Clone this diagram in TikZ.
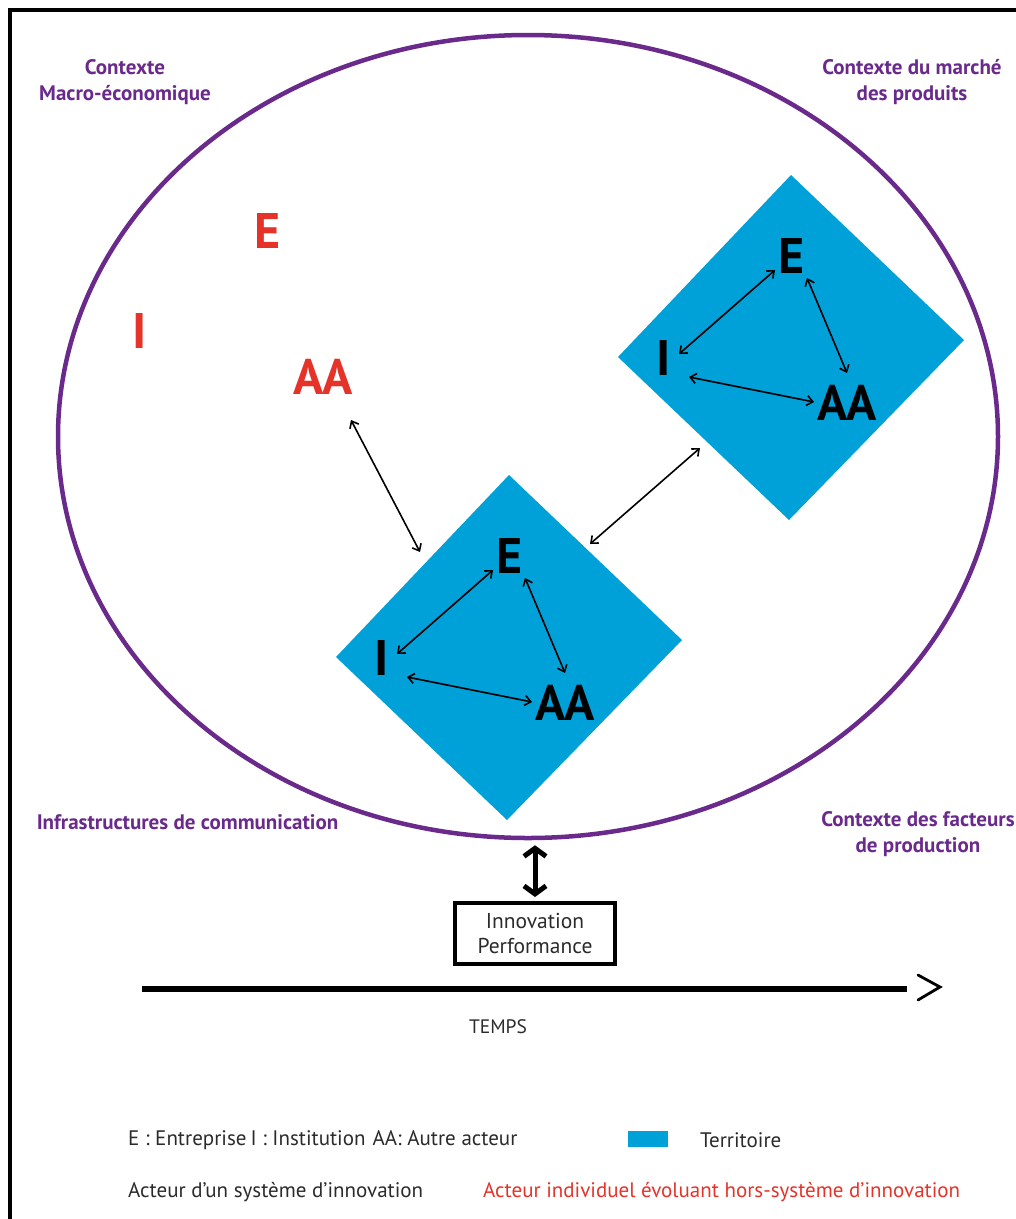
\documentclass[tikz,border=0pt]{standalone}
\usepackage{fontspec}
\setmainfont{PT Sans}
\newfontfamily\legfont{PT Sans}
\usetikzlibrary{arrows.meta,calc,shapes.geometric}
\definecolor{terr}{HTML}{00A0D8}
\definecolor{ctxpurple}{HTML}{6A2A8C}
\definecolor{outred}{HTML}{E5332A}
\definecolor{txtgray}{HTML}{2B2B2B}
\begin{document}
\begin{tikzpicture}[x=1pt,y=-1pt,
  letter/.style={inner sep=0pt,font=\fontsize{50}{50}\selectfont\bfseries},
  ctxlabel/.style={align=center,text=ctxpurple,inner sep=0pt,font=\fontsize{21}{26}\selectfont\bfseries},
  legtext/.style={anchor=west,inner sep=0pt,text=txtgray,font=\legfont\fontsize{21}{24}\selectfont},
  link/.style={line width=1.6pt,{Straight Barb[length=6pt,width=10pt]}-{Straight Barb[length=6pt,width=10pt]}},
  biglink/.style={line width=5pt,{Straight Barb[length=8pt,width=22pt]}-{Straight Barb[length=8pt,width=22pt]}}
]
\useasboundingbox (0,0) rectangle (1016,1219);
\fill[white] (0,0) rectangle (1016,1219);
% frame
\draw[line width=4pt] (9.5,1230) -- (9.5,9.5) -- (1030,9.5);

% context ellipse
\node[draw=ctxpurple,line width=4.5pt,ellipse,minimum width=940pt,minimum height=803pt,inner sep=0pt] (ctx) at (528,436.5) {};

% territories
\coordinate (T1) at (508.5,648);
\coordinate (T2) at (790.5,348);
\foreach \t in {T1,T2}{
  \fill[terr] ($(\t)+(0.5,-173)$) -- ($(\t)+(173.5,-8)$) -- ($(\t)+(-1.5,172)$) -- ($(\t)+(-172.5,9)$) -- cycle;
}

% context labels
\node[ctxlabel] (lmacro) at (125,82) {Contexte\\Macro-économique};
\node[ctxlabel] (lmarche) at (912,82) {Contexte du marché\\des produits};
\node[ctxlabel] (linfra) at (187.5,822) {Infrastructures de communication};
\node[ctxlabel] (lfact) at (918,834.5) {Contexte des facteurs\\de production};

% actors in systems
\node[letter] (E1) at (510,556) {E};
\node[letter] (I1) at (382,658) {I};
\node[letter] (AA1) at (565,703) {AA};
\node[letter] (E2) at (792,256) {E};
\node[letter] (I2) at (664,358) {I};
\node[letter] (AA2) at (847,403) {AA};

% individual actors
\node[letter,text=outred] (Er) at (268,231) {E};
\node[letter,text=outred] (Ir) at (140,331) {I};
\node[letter,text=outred] (AAr) at (323,377) {AA};

% links inside territories
\foreach \k in {1,2}{
  \draw[link] ($(I\k)+(15,-4)$) -- ($(E\k)+(-17,14)$);
  \draw[link] ($(E\k)+(15,22)$) -- ($(AA\k)+(0,-30)$);
  \draw[link] ($(I\k)+(25,19)$) -- ($(AA\k)+(-33,-1)$);
}
% links between
\draw[link] ($(AAr)+(28,43)$) -- ($(T1)+(-88.5,-96)$);
\draw[link] ($(T1)+(81.5,-104)$) -- ($(T2)+(-90.5,100)$);

% innovation performance
\node[draw,line width=4pt,minimum width=160pt,minimum height=61pt,inner sep=0pt,align=center,text=txtgray,font=\fontsize{21.5}{25}\selectfont] (IP) at (535,933.5) {Innovation\\Performance};
\draw[biglink] ($(IP.north |- ctx.south)+(0,5)$) -- ($(IP.north)+(0,-4)$);

% time line
\coordinate (t0) at (142,989);
\coordinate (t1) at (907,989);
\draw[line width=6pt] (t0) -- (t1);
\draw[line width=2.8pt,line cap=round,line join=miter] ($(t1)+(11,-14)$) -- ($(t1)+(33,-2)$) -- ($(t1)+(11,11)$);
\node[inner sep=0pt,text=txtgray,font=\fontsize{19.5}{20}\selectfont] (temps) at (498,1027) {TEMPS};

% legend
\node[legtext] (leg1) at (128,1140) {E : Entreprise\hspace{4pt}I : Institution\hspace{7pt}AA: Autre acteur};
\node[fill=terr,minimum width=40pt,minimum height=16pt,inner sep=0pt] (legbox) at (648,1139) {};
\node[legtext] (legterr) at (700,1140) {Territoire};
\node[legtext] (leg2) at (128,1192) {Acteur d’un système d’innovation};
\node[legtext,text=outred] (leg3) at (483,1192) {Acteur individuel évoluant hors-système d’innovation};
\end{tikzpicture}
\end{document}
